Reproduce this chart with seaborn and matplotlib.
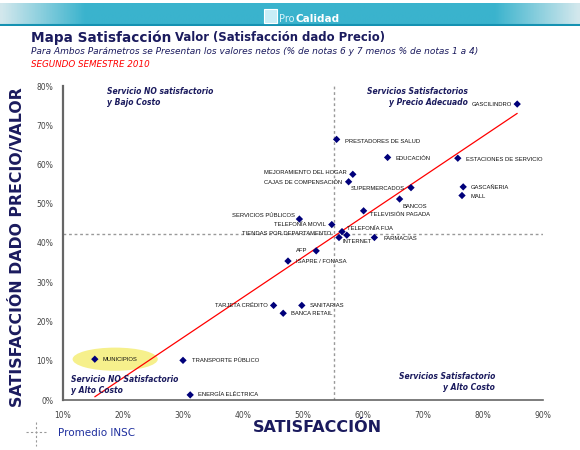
import numpy as np
import pandas as pd
import matplotlib
matplotlib.use("Agg")
import matplotlib.pyplot as plt
from matplotlib.patches import Ellipse, Rectangle
import seaborn as sns

# Datos: valores netos (% notas 6-7 menos % notas 1-4)
servicios = [
    "GASCILINDRO", "PRESTADORES DE SALUD", "EDUCACIÓN", "ESTACIONES DE SERVICIO",
    "MEJORAMIENTO DEL HOGAR", "CAJAS DE COMPENSACIÓN", "SUPERMERCADOS", "GASCAÑERIA",
    "MALL", "BANCOS", "TELEVISIÓN PAGADA", "SERVICIOS PÚBLICOS", "TELEFONÍA MOVIL",
    "TELEFONÍA FIJA", "TIENDAS POR DEPARTAMENTO", "INTERNET", "FARMACIAS", "AFP",
    "ISAPRE / FONASA", "TARJETA CRÉDITO", "SANITARIAS", "BANCA RETAIL", "MUNICIPIOS",
    "TRANSPORTE PÚBLICO", "ENERGÍA ELÉCTRICA",
]
satisfaccion = [85.7, 55.6, 64.1, 75.8, 58.3, 57.6, 68.0, 76.7, 76.5, 66.1, 60.1, 49.4, 54.8,
                56.5, 57.3, 56.0, 61.9, 52.2, 47.5, 45.1, 49.8, 46.7, 15.3, 30.0, 31.2]
valor = [75.4, 66.4, 61.8, 61.6, 57.5, 55.6, 54.1, 54.3, 52.1, 51.2, 48.2, 46.1, 44.7,
         42.9, 42.0, 41.4, 41.4, 38.0, 35.4, 24.1, 24.1, 22.1, 10.4, 10.1, 1.3]
promedio_sat = 55.2
promedio_val = 42.2

x_ticks = [10, 20, 30, 40, 50, 60, 70, 80, 90]
y_ticks = [0, 10, 20, 30, 40, 50, 60, 70, 80]

# posicion de las etiquetas (dx, dy en pixeles, lado)
etiquetas_pos = {
    "GASCILINDRO": (-5, 0, "right"),
    "PRESTADORES DE SALUD": (8, -2, "left"),
    "EDUCACIÓN": (8, -1, "left"),
    "ESTACIONES DE SERVICIO": (8, -1, "left"),
    "MEJORAMIENTO DEL HOGAR": (-6, 2, "right"),
    "CAJAS DE COMPENSACIÓN": (-6, -1, "right"),
    "SUPERMERCADOS": (-6, -1, "right"),
    "GASCAÑERIA": (8, -1, "left"),
    "MALL": (8, -1, "left"),
    "BANCOS": (3, -7, "left"),
    "TELEVISIÓN PAGADA": (6, -4, "left"),
    "SERVICIOS PÚBLICOS": (-4, 4, "right"),
    "TELEFONÍA MOVIL": (-6, 0, "right"),
    "TELEFONÍA FIJA": (5, 3, "left"),
    "TIENDAS POR DEPARTAMENTO": (-16, 2, "right"),
    "INTERNET": (3, -4, "left"),
    "FARMACIAS": (9, -1, "left"),
    "AFP": (-9, 0, "right"),
    "ISAPRE / FONASA": (8, 0, "left"),
    "TARJETA CRÉDITO": (-6, 0, "right"),
    "SANITARIAS": (8, 0, "left"),
    "BANCA RETAIL": (8, 0, "left"),
    "MUNICIPIOS": (8, 0, "left"),
    "TRANSPORTE PÚBLICO": (9, 0, "left"),
    "ENERGÍA ELÉCTRICA": (8, 0, "left"),
}

df = pd.DataFrame({"servicio": servicios, "sat": satisfaccion, "val": valor})

navy = "#1b1b5e"
W, H = 580, 450

sns.set_style("white")
plt.rcParams["font.family"] = ["DejaVu Sans"]

fig = plt.figure(figsize=(W / 100, H / 100), dpi=100)

def fx(px):
    return px / W

def fy(py):
    return 1 - py / H

# banda superior
banner = fig.add_axes([0, fy(26), 1, 23 / H])
grad = np.ones((1, 200))
grad[0, :30] = np.linspace(0.15, 1, 30)
grad[0, -30:] = np.linspace(1, 0.15, 30)
banner.imshow(grad, aspect="auto", cmap=sns.light_palette("#3ab3cd", as_cmap=True),
              vmin=0, vmax=1, extent=[0, 1, 0, 1])
banner.axhline(0.03, color="#1592b2", lw=1.5)
banner.axis("off")
fig.patches.append(Rectangle((fx(264), fy(23)), 13 / W, 14 / H, transform=fig.transFigure,
                             facecolor="#c9eef7", edgecolor="white", lw=0.8))
t_pro = fig.text(fx(279), fy(19), "Pro", color="#d8f3fa", fontsize=7, ha="left",
                 va="center")
fig.canvas.draw()
fig.text((t_pro.get_window_extent().x1 + 0.5) / W, fy(19), "Calidad", color="white",
         fontsize=7.5, ha="left", va="center", fontweight="bold")

# titulos
t1 = fig.text(fx(31), fy(38), "Mapa Satisfacción", color=navy, fontsize=9.8,
              fontweight="bold", va="center")
fig.canvas.draw()
x_fin = t1.get_window_extent().x1
fig.text((x_fin + 4) / W, fy(38), "Valor (Satisfacción dado Precio)", color=navy,
         fontsize=8.4, fontweight="bold", va="center")
fig.text(fx(31), fy(52), "Para Ambos Parámetros se Presentan los valores netos "
         "(% de notas 6 y 7 menos % de notas 1 a 4)", color=navy, fontsize=6.45,
         style="italic", va="center")
fig.text(fx(31), fy(65), "SEGUNDO SEMESTRE 2010", color="#ff0000", fontsize=6.3,
         style="italic", va="center")

ax = fig.add_axes([fx(63), fy(400), fx(543) - fx(63), fy(86) - fy(400)])

muni = df[df.servicio == "MUNICIPIOS"].iloc[0]
ax.add_patch(Ellipse((muni.sat + 3.4, muni.val), 14.2, 5.9, facecolor="#f6f08c",
                     edgecolor="none", zorder=1))

ax.axvline(promedio_sat, color="#999999", lw=1, ls=(0, (2, 2)), zorder=2)
ax.axhline(promedio_val, color="#999999", lw=1, ls=(0, (2, 2)), zorder=2)

sns.regplot(data=df, x="sat", y="val", scatter=False, ci=None, truncate=True,
            line_kws={"color": "#ff0000", "lw": 0.9, "zorder": 3}, ax=ax)
sns.scatterplot(data=df, x="sat", y="val", marker="D", s=14, color="#00007a",
                edgecolor="none", zorder=4, ax=ax)

for _, r in df.iterrows():
    dx, dy, ha = etiquetas_pos[r.servicio]
    ax.annotate(r.servicio, (r.sat, r.val), xytext=(dx, dy), textcoords="offset pixels",
                ha=ha, va="center", fontsize=4.2, family="Liberation Sans", color="#111111",
                zorder=5)

ax.set_xlim(10, 90)
ax.set_ylim(0, 80)
ax.set_xticks(x_ticks)
ax.set_yticks(y_ticks)
ax.set_xticklabels([f"{t}%" for t in x_ticks])
ax.set_yticklabels([f"{t}%" for t in y_ticks])
ax.tick_params(labelsize=5.5, labelcolor="#444444", length=3, width=0.8, color="#555555",
               pad=4)
ax.tick_params(axis="x", pad=5)
sns.despine(ax=ax)
for s in ["left", "bottom"]:
    ax.spines[s].set_color("#666666")
ax.spines["left"].set_linewidth(1.6)
ax.spines["bottom"].set_linewidth(1.2)
ax.set_xlabel("")
ax.set_ylabel("")

# textos de cuadrantes
q = dict(color=navy, fontsize=5.5, style="italic", fontweight="bold", transform=fig.transFigure,
         va="center", linespacing=1.25)
fig.text(fx(107), fy(97), "Servicio NO satisfactorio\ny Bajo Costo", ha="left", **q)
fig.text(fx(468), fy(97), "Servicios Satisfactorios\ny Precio Adecuado", ha="right",
         multialignment="right", **q)
fig.text(fx(71), fy(385), "Servicio NO Satisfactorio\ny Alto Costo", ha="left", **q)
fig.text(fx(495), fy(382), "Servicios Satisfactorio\ny Alto Costo", ha="right",
         multialignment="right", **q)

# titulos de ejes
fig.text(fx(317), fy(428), "SATISFACCIÓN", color=navy, fontsize=11.5, fontweight="bold",
         ha="center", va="center")
fig.text(fx(17), fy(247), "SATISFACCIÓN DADO PRECIO/VALOR", color=navy, fontsize=11.3,
         fontweight="bold", ha="center", va="center", rotation=90)

# leyenda promedio
fig.add_artist(plt.Line2D([fx(26), fx(46)], [fy(432), fy(432)], color="#999999", lw=0.8,
                          ls=(0, (2, 2)), transform=fig.transFigure))
fig.add_artist(plt.Line2D([fx(36), fx(36)], [fy(422), fy(446)], color="#999999", lw=0.8,
                          ls=(0, (2, 2)), transform=fig.transFigure))
fig.text(fx(58), fy(433), "Promedio INSC", color="#1f2f9e", fontsize=7.5, va="center")

fig.savefig("out.png", dpi=100)
